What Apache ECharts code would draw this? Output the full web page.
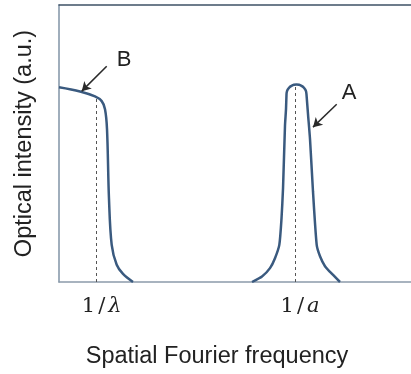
<!DOCTYPE html>
<html><head><meta charset="utf-8">
<script src="https://cdn.jsdelivr.net/npm/echarts@6/dist/echarts.min.js"></script>
<style>html,body{margin:0;padding:0;background:#fff}#c{width:411px;height:374px}</style>
</head><body><div id="c"></div>
<script>
// Curve B (low-frequency roll-off): [frequency, intensity]
const curveB = [[0,0.703],[0.597,0.688],[1.023,0.670],[1.213,0.653],[1.307,0.624],[1.364,0.552],[1.420,0.301],[1.497,0.134],[1.639,0.062],[1.818,0.029],[2.102,0]];
// Curve A (peak at 1/a)
const curveA = [[5.483,0],[5.767,0.0197],[5.994,0.050],[6.136,0.086],[6.259,0.134],[6.321,0.229],[6.364,0.337],[6.420,0.564],[6.449,0.624],
  [6.463,0.677],[6.473,0.687],[6.501,0.695],[6.546,0.703],[6.605,0.708],[6.674,0.712],[6.747,0.713],[6.821,0.712],[6.889,0.708],[6.948,0.703],[6.993,0.695],[7.021,0.687],[7.031,0.677],
  [7.074,0.606],[7.131,0.516],[7.216,0.326],[7.321,0.134],[7.415,0.093],[7.557,0.057],[7.756,0.029],[7.983,0]];
// Tick positions and labels
const tickValues = [1.071, 6.705];
const tickLabels = ['{n|1}{s|/}{v|λ}', '{n|1}{s|/}{v|a}'];
// Dashed guide lines: [x, top]
const guides = [[1.071, 0.668], [6.705, 0.713]];
// Annotation arrows: [fromX, fromY, toX, toY]
const arrows = [[1.355, 0.779, 0.645, 0.689], [7.889, 0.642, 7.216, 0.559]];
// Annotation labels: [x, y, text]
const labels = [[1.847, 0.803, 'B'], [8.239, 0.684, 'A']];
const xTitle = 'Spatial Fourier frequency';
const yTitle = 'Optical intensity (a.u.)';

const curveColor = '#3a5a7f';
const chart = echarts.init(document.getElementById('c'), null, {renderer: 'canvas'});
chart.setOption({
  animation: false,
  grid: {left: 59, top: 5, right: 0, bottom: 90},
  xAxis: [{
    type: 'value', min: 0, max: 10, position: 'bottom',
    axisLine: {show: true, lineStyle: {color: '#8c9bab', width: 1.5}},
    axisTick: {show: false}, splitLine: {show: false},
    axisLabel: {
      show: true, customValues: tickValues, margin: 14, padding: [0,0,0,10],
      formatter: function (v) { const i = tickValues.indexOf(v); return i >= 0 ? tickLabels[i] : ''; },
      rich: {
        n: {fontFamily: 'DejaVu Serif', fontSize: 21, color: '#222', padding: [0,3,0,0]},
        s: {fontFamily: 'DejaVu Serif', fontSize: 21, color: '#222', padding: [0,3,0,0]},
        v: {fontFamily: 'DejaVu Serif', fontStyle: 'italic', fontSize: 21, color: '#222'}
      }
    },
    name: xTitle, nameLocation: 'middle', nameGap: 63,
    nameTextStyle: {fontFamily: 'Liberation Sans', fontSize: 23.5, color: '#222', padding: [0, 36, 0, 0]}
  }, {
    type: 'value', min: 0, max: 10, position: 'top',
    axisLine: {show: true, lineStyle: {color: '#3e5266', width: 1.5}},
    axisTick: {show: false}, splitLine: {show: false}, axisLabel: {show: false}
  }],
  yAxis: {
    type: 'value', min: 0, max: 1,
    axisLine: {show: true, lineStyle: {color: '#8193a6', width: 1.5}},
    axisTick: {show: false}, splitLine: {show: false}, axisLabel: {show: false},
    name: yTitle, nameLocation: 'middle', nameGap: 22, nameRotate: 90,
    nameTextStyle: {fontFamily: 'Liberation Sans', fontSize: 23.5, color: '#222'}
  },
  series: [
    {type: 'line', data: curveB, smooth: 0.35, symbol: 'none', lineStyle: {color: curveColor, width: 2.5}, z: 3},
    {type: 'line', data: curveA, smooth: 0.2, symbol: 'none', lineStyle: {color: curveColor, width: 2.5}, z: 3},
    {type: 'line', data: [], symbol: 'none', z: 2,
      markLine: {
        silent: true, symbol: 'none', animation: false,
        label: {show: false},
        lineStyle: {color: '#555', type: [3, 3], width: 1},
        data: guides.map(g => [{coord: [g[0], 0]}, {coord: [g[0], g[1]]}])
      }
    },
    {type: 'line', data: [], symbol: 'none', z: 4,
      markLine: {
        silent: true, animation: false,
        symbol: ['none', 'arrow'], symbolSize: [8, 9],
        label: {show: false},
        lineStyle: {color: '#2a2a2a', type: 'solid', width: 1.5},
        data: arrows.map(a => [{coord: [a[0], a[1]]}, {coord: [a[2], a[3]]}])
      },
      markPoint: {
        silent: true, animation: false, symbol: 'circle', symbolSize: 0,
        label: {show: true, position: 'inside', fontFamily: 'Liberation Sans', fontSize: 22, color: '#222',
          formatter: p => p.name},
        data: labels.map(l => ({name: l[2], coord: [l[0], l[1]]}))
      }
    }
  ]
});
</script></body></html>
